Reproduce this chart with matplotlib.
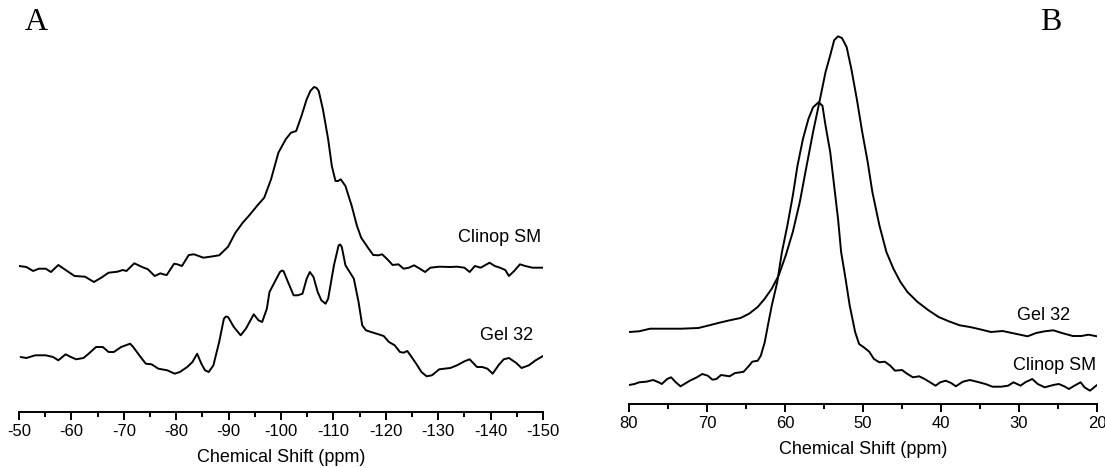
import numpy as np
import matplotlib
matplotlib.use("Agg")
import matplotlib.pyplot as plt

plt.rcParams['font.family'] = ['Liberation Sans', 'DejaVu Sans']
plt.rcParams['axes.unicode_minus'] = False

# ---- Panel A : 29Si spectra (ppm, intensity relative to own baseline) ----
clinop_a_ppm = [-50.0, -51.4, -52.7, -53.8, -55.1, -56.1, -57.5, -58.9, -60.6, -62.6,
                -64.3, -65.7, -67.1, -68.8, -69.8, -70.5, -72.0, -73.5, -74.6, -75.9,
                -77.0, -77.5, -78.2, -79.6, -80.2, -81.1, -82.4, -83.4, -85.2, -86.5,
                -88.2, -89.9, -91.3, -92.7, -94.0, -95.4, -96.8, -98.1, -99.5, -100.9,
                -101.9, -102.9, -103.9, -104.9, -105.6, -106.3, -106.8, -107.2, -108.0, -109.0,
                -109.7, -110.4, -110.9, -111.4, -112.3, -113.5, -114.5, -115.3, -116.6, -117.6,
                -118.6, -119.3, -120.3, -121.3, -122.4, -123.4, -124.4, -125.4, -126.5, -127.5,
                -128.5, -130.2, -132.3, -133.6, -135.0, -136.0, -137.0, -138.1, -139.8, -140.8,
                -141.8, -142.8, -143.5, -144.5, -145.6, -146.6, -148.0, -150.0]
clinop_a_int = [0, -1, -5, -2.7, -2.7, -6, 1, -4, -10, -10.7,
                -16, -11.7, -6.7, -5.7, -4, -5, 2.7, -1, -3.3, -10,
                -7.3, -8.3, -9, 2.3, 1.7, 0, 11, 11.7, 8.3, 9.3,
                10.7, 19.3, 33.3, 43.3, 51, 60, 68.3, 86.7, 113.3, 126.7,
                133.3, 135, 150, 166.7, 175, 179, 178, 175, 156.7, 126.7,
                100, 85, 85, 86.7, 80, 60, 40, 28.3, 18.3, 11,
                10.7, 11.7, 6.7, 1, 1.7, -2.7, -1.7, 0.7, -2.7, -6,
                -1.7, -0.7, -1, -0.7, -1.7, -6, 0, -1.7, 3.3, 0,
                -1.7, -4, -10, -5, 1.7, 0, -1.7, -1.7]

gel_a_ppm = [-50.3, -51.4, -53.1, -55.1, -56.5, -57.5, -58.9, -59.9, -60.9, -62.3,
             -63.3, -64.7, -66.0, -67.1, -68.1, -69.5, -71.2, -71.8, -73.2, -74.2,
             -75.3, -76.6, -78.3, -79.7, -80.7, -82.1, -83.1, -84.0, -84.8, -85.5,
             -86.2, -87.1, -88.2, -89.1, -89.5, -89.9, -91.0, -92.3, -93.3, -94.8,
             -95.7, -96.4, -97.3, -97.8, -98.8, -99.8, -100.2, -100.5, -101.2, -102.4,
             -103.2, -104.1, -104.9, -105.5, -106.2, -107.0, -107.7, -108.5, -109.0, -110.1,
             -111.0, -111.3, -111.6, -112.3, -113.1, -113.9, -114.8, -115.5, -116.2, -117.2,
             -118.6, -119.6, -120.6, -121.7, -122.7, -123.4, -124.1, -124.7, -125.8, -126.8,
             -127.8, -128.8, -130.2, -132.3, -133.6, -135.0, -136.0, -137.4, -138.4, -139.4,
             -140.4, -141.5, -142.5, -143.5, -144.9, -145.9, -147.3, -148.6, -150.0]
gel_a_int = [0, -1, 1.7, 1.7, 0, -3.3, 2.7, 0, -2.3, -1,
             3.3, 10, 10, 5, 5, 10, 13.3, 10, 0, -6.7,
             -7.3, -11.7, -13.3, -16.7, -15, -10, -5, 3.3, -6.7, -13.3,
             -15, -8.3, 15, 38.3, 40.5, 40, 30, 21.7, 28.3, 42.7,
             36.7, 35, 48.3, 65, 75, 85, 86.5, 85.7, 76.7, 61.7,
             61.7, 63.3, 78.3, 85, 80, 65, 56.7, 53.3, 58.3, 91.7,
             111.7, 112.5, 110, 91.7, 85, 78.3, 55, 31.7, 26.7, 25,
             22.7, 21, 15, 11.7, 5, 4.3, 6, 1.7, -6.7, -15,
             -19.3, -18.3, -12.3, -11, -8.3, -4.3, -2.3, -10, -10, -11.7,
             -16.7, -8.3, -2.3, -1, -6, -11, -8.3, -3.3, 1]

# ---- Panel B : 27Al spectra ----
gel_b_ppm = [80.0, 78.7, 77.3, 75.5, 73.3, 71.1, 69.7, 68.4, 67.1, 65.7,
             64.6, 63.5, 62.6, 61.7, 60.8, 59.9, 59.0, 58.1, 57.3, 56.4,
             55.5, 54.8, 54.2, 53.7, 53.2, 52.7, 52.1, 51.5, 50.8, 50.1,
             49.4, 48.8, 47.9, 47.0, 46.1, 45.2, 44.3, 43.0, 41.6, 40.3,
             39.0, 37.6, 36.3, 35.0, 33.6, 32.1, 30.9, 28.9, 27.8, 26.7,
             25.6, 24.5, 23.1, 22.0, 21.1, 20.0]
gel_b_int = [0, 0.7, 3.3, 3.3, 3.3, 4, 6.7, 9.3, 11.7, 14,
             18.3, 25, 33.3, 43.3, 56.7, 76.7, 100, 130, 163.3, 200,
             233.3, 260, 276.7, 291.7, 295.7, 294, 285, 263.3, 233.3, 200,
             170, 140, 106.7, 80, 63.3, 50, 40, 30, 21.7, 15,
             10.7, 6.7, 5, 2.7, 0, 1, -1, -4.3, -1, 0.7,
             1.7, -1, -4, -4, -2.7, -4.3]

clinop_b_ppm = [80.0, 79.3, 78.7, 77.8, 76.9, 76.2, 75.8, 75.1, 74.6, 74.0,
                73.4, 72.9, 72.2, 71.3, 70.6, 69.9, 69.3, 68.8, 68.2, 67.6,
                67.1, 66.4, 65.7, 65.3, 64.6, 64.2, 63.5, 63.1, 62.6, 62.2,
                61.7, 61.0, 60.4, 59.7, 59.0, 58.4, 57.7, 57.0, 56.4, 55.7,
                55.2, 54.8, 54.2, 53.7, 53.2, 52.8, 52.3, 51.7, 51.0, 50.5,
                49.9, 49.2, 48.6, 47.9, 47.2, 46.5, 45.9, 45.0, 44.3, 43.6,
                42.8, 42.1, 41.4, 40.7, 40.1, 39.4, 38.7, 38.1, 37.2, 36.3,
                35.4, 34.3, 33.4, 32.3, 31.4, 30.7, 29.8, 29.2, 28.3, 27.6,
                26.7, 25.6, 24.9, 24.2, 23.6, 22.9, 22.1, 21.6, 20.9, 20.0]
clinop_b_int = [-1, 0, 1.7, 2.3, 4, 1.7, 0, 5, 6.7, 1.7,
                -2.3, 0, 3.3, 6.7, 10, 8.3, 4.3, 5, 9, 8.3,
                7.7, 11, 11.7, 12.3, 18.3, 22.3, 23.3, 28.3, 41.7, 58.3,
                78.3, 101.7, 131.7, 158.3, 188.3, 218.3, 245, 265, 276.7, 281.7,
                278.3, 258.3, 231.7, 198.3, 165, 131.7, 108.3, 78.3, 51.7, 40,
                36.7, 32.3, 25, 21.7, 22.3, 18.3, 13.3, 14, 10, 6.7,
                7.7, 5, 1.7, -1.7, 1.7, 3.3, 1, -2.3, 2.3, 4,
                2.3, 0, -2.7, -2.7, -1.7, 1.7, -1.7, 1.7, 5, 0,
                -3.3, -1, 0, -2.3, -5, -1.7, 1.7, -3.3, -6.7, -1]

# stacking offsets for each trace
off_clinop_a, off_gel_a = 146, 55
off_gel_b, off_clinop_b = 72, 20


def style_axis(ax, xlim, major, minor):
    ax.set_xlim(*xlim)
    for s in ('left', 'right', 'top'):
        ax.spines[s].set_visible(False)
    ax.spines['bottom'].set_linewidth(1.4)
    ax.set_yticks([])
    ax.set_xticks(major)
    ax.set_xticks(minor, minor=True)
    ax.tick_params(axis='x', which='major', direction='out', length=5.5, width=1.4,
                   labelsize=12, pad=3)
    ax.tick_params(axis='x', which='minor', direction='out', length=3.5, width=1.4)
    ax.set_xlabel('Chemical Shift (ppm)', fontsize=13, labelpad=7)


def trace(ax, x, y, off):
    ax.plot(x, np.array(y) + off, color='black', lw=1.4,
            solid_joinstyle='round', solid_capstyle='round')


fig = plt.figure(figsize=(11.05, 4.68), dpi=100)

# panel A
axA = fig.add_axes([19 / 1105, 1 - 412 / 468, 524 / 1105, 382 / 468])
trace(axA, clinop_a_ppm, clinop_a_int, off_clinop_a)
trace(axA, gel_a_ppm, gel_a_int, off_gel_a)
axA.set_ylim(0, 382)
style_axis(axA, (-50, -150), np.arange(-50, -151, -10), np.arange(-55, -150, -10))
axA.text(-149.6, 174, 'Clinop SM', ha='right', va='center', fontsize=13)
axA.text(-148.1, 77, 'Gel 32', ha='right', va='center', fontsize=13)

# panel B
axB = fig.add_axes([629 / 1105, 1 - 404 / 468, 468 / 1105, 374 / 468])
trace(axB, gel_b_ppm, gel_b_int, off_gel_b)
trace(axB, clinop_b_ppm, clinop_b_int, off_clinop_b)
axB.set_ylim(0, 374)
style_axis(axB, (80, 20), np.arange(80, 19, -10), np.arange(75, 20, -10))
axB.text(23.5, 89, 'Gel 32', ha='right', va='center', fontsize=13)
axB.text(20.1, 39, 'Clinop SM', ha='right', va='center', fontsize=13)

fig.text(36 / 1105, 1 - 22 / 468, 'A', fontsize=23, family='Liberation Serif',
         ha='center', va='center')
fig.text(1051 / 1105, 1 - 22 / 468, 'B', fontsize=23, family='Liberation Serif',
         ha='center', va='center')

fig.savefig('out.png', dpi=100)
